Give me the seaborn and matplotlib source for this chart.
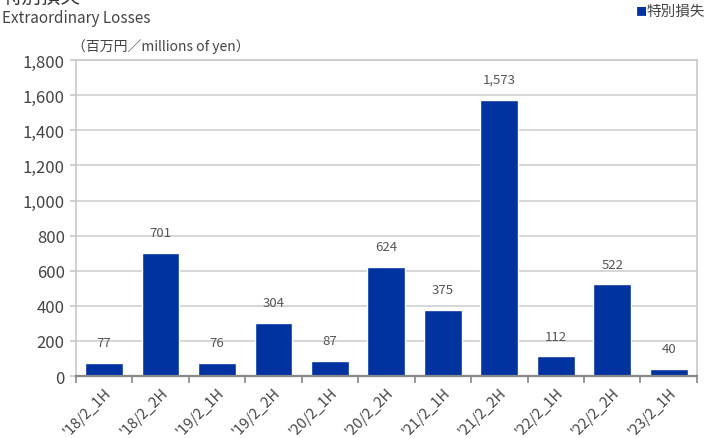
import matplotlib
matplotlib.use("Agg")
import matplotlib.pyplot as plt
import seaborn as sns
import pandas as pd
import numpy as np
from matplotlib.ticker import FuncFormatter, FixedLocator

categories = ["'18/2_1H", "'18/2_2H", "'19/2_1H", "'19/2_2H", "'20/2_1H", "'20/2_2H",
              "'21/2_1H", "'21/2_2H", "'22/2_1H", "'22/2_2H", "'23/2_1H"]
values = [77, 701, 76, 304, 87, 624, 375, 1573, 112, 522, 40]
series_name = "特別損失"
yticks = [0, 200, 400, 600, 800, 1000, 1200, 1400, 1600, 1800]

sns.set_theme(style="white")
plt.rcParams['font.family'] = ['Noto Sans CJK JP', 'DejaVu Sans']

df = pd.DataFrame({"cat": categories, "val": values})
bar_color = "#0033A0"
text_color = "#555555"

fig = plt.figure(figsize=(7.09, 4.39), dpi=100)
ax = fig.add_axes([0.107, 0.141, 0.876, 0.72])
sns.barplot(data=df, x="cat", y="val", color=bar_color, width=0.67, saturation=1, ax=ax)

ax.set_ylim(0, 1800)
ax.set_xlim(-0.5, len(categories) - 0.5)
ax.yaxis.set_major_locator(FixedLocator(yticks))
ax.yaxis.set_major_formatter(FuncFormatter(lambda v, p: f"{int(v):,}"))
ax.grid(axis="y", color="#d0d0d0", linewidth=1.2)
ax.set_axisbelow(True)
ax.set_xlabel("")
ax.set_ylabel("")

for side in ["left", "right", "top"]:
    ax.spines[side].set_color("#c8c8c8")
    ax.spines[side].set_linewidth(1.2)
ax.spines["bottom"].set_color("#888888")
ax.spines["bottom"].set_linewidth(1.6)

ax.tick_params(axis="y", length=4, color="#c8c8c8", labelsize=12, labelcolor="#444444", pad=4, left=True)
ax.set_xticks(range(len(categories)))
ax.set_xticklabels(categories, rotation=45, ha="right", rotation_mode="anchor",
                   fontsize=10.5, color="#444444")
ax.tick_params(axis="x", which="major", length=0, pad=6)
ax.set_xticks(np.arange(-0.5, len(categories), 1.0), minor=True)
ax.tick_params(axis="x", which="minor", length=5, color="#888888", width=1.2, bottom=True)

for i, v in enumerate(values):
    ax.annotate(f"{v:,}", (i, v), xytext=(0, 10), textcoords="offset points",
                ha="center", va="bottom", fontsize=9.5, color=text_color)

fig.text(0.003, 1.005, series_name, fontsize=14, color="#333333", ha="left", va="center")
fig.text(0.003, 0.958, "Extraordinary Losses", fontsize=11, color="#444444", ha="left", va="center")
fig.text(0.102, 0.895, "（百万円／millions of yen）", fontsize=10, color="#444444", ha="left", va="center")

# legend
fig.text(0.897, 0.972, "■", fontsize=8, color=bar_color, ha="left", va="center")
fig.text(0.912, 0.972, series_name, fontsize=10.5, color="#444444", ha="left", va="center")

fig.savefig("out.png", dpi=100)
